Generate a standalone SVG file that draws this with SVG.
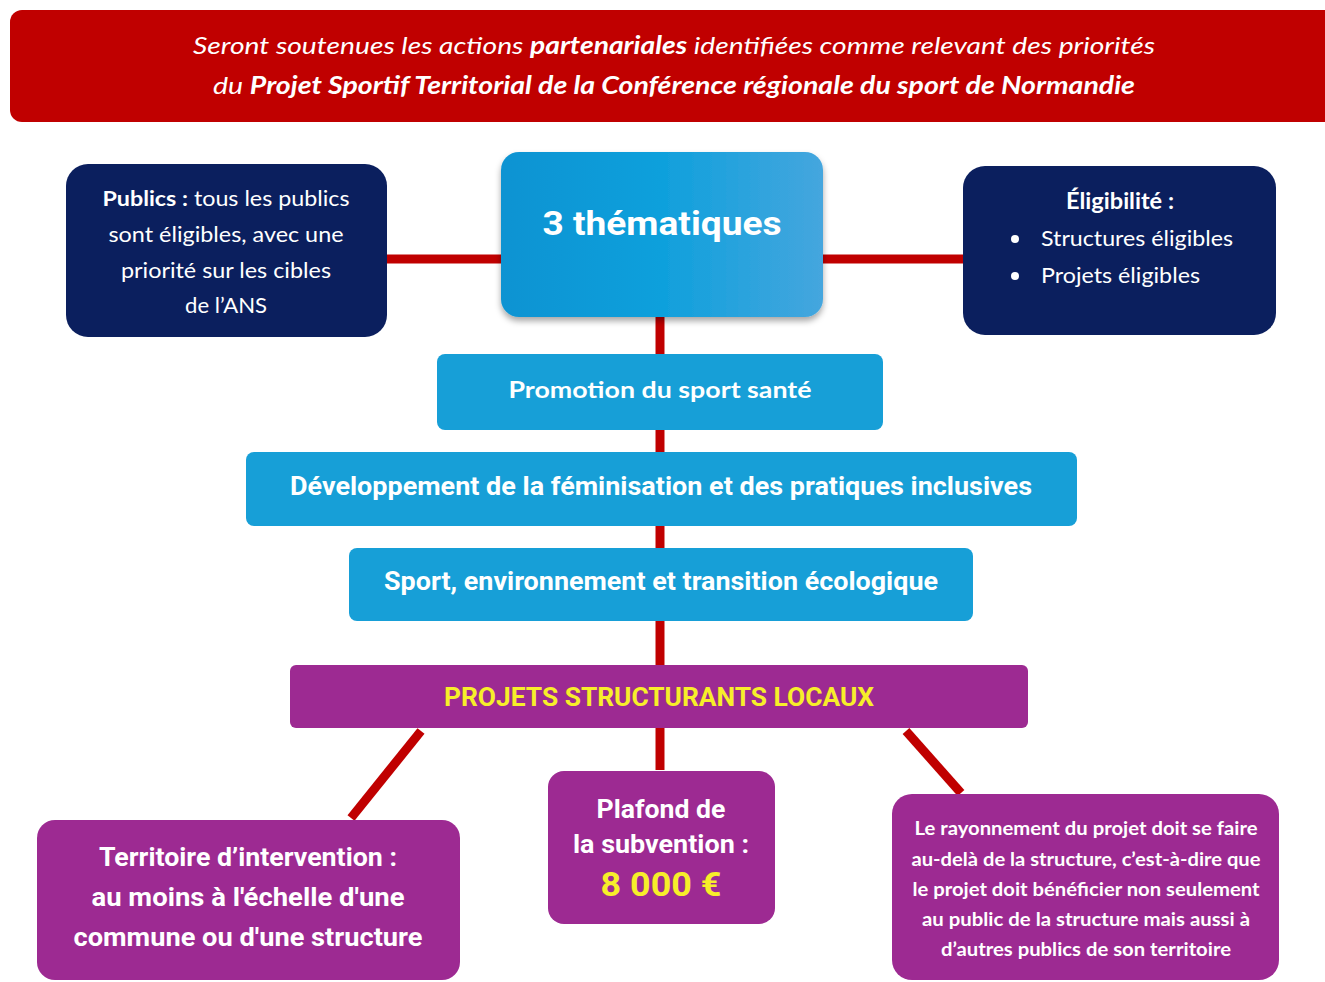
<svg xmlns="http://www.w3.org/2000/svg" width="1325" height="982" viewBox="0 0 1325 982">
<defs>
<linearGradient id="gblue" x1="0" y1="0" x2="1" y2="0">
<stop offset="0" stop-color="#0A93D2"/>
<stop offset="0.5" stop-color="#0FA0DC"/>
<stop offset="1" stop-color="#45A6DE"/>
</linearGradient>
<filter id="sh" x="-10%" y="-10%" width="120%" height="130%">
<feDropShadow dx="0" dy="4" stdDeviation="3" flood-color="#000" flood-opacity="0.35"/>
</filter>
</defs>
<style>
.navy{fill:#0B1F5E}
.blue{fill:#179FD7}
.purple{fill:#9D2A92}
.conn{stroke:#C00000;stroke-width:9;fill:none}
.w{fill:#FFFFFF}
.lato{font-family:Lato,"Open Sans",sans-serif}
.rob{font-family:Roboto,"Liberation Sans",sans-serif;font-weight:700}
.yel{fill:#F7EE2A}
</style>
<rect width="1325" height="982" fill="#FFFFFF"/>
<g id="header">
<rect x="10" y="10" width="1330" height="112" rx="12" fill="#C00000"/>
<text class="lato w" x="674" y="54" font-size="24" font-style="italic" text-anchor="middle" textLength="962" lengthAdjust="spacingAndGlyphs">Seront soutenues les actions <tspan font-weight="700">partenariales</tspan> identifiées comme relevant des priorités</text>
<text class="lato w" x="674" y="94" font-size="24" font-style="italic" text-anchor="middle" textLength="922" lengthAdjust="spacingAndGlyphs">du <tspan font-weight="700">Projet Sportif Territorial de la Conférence régionale du sport de Normandie</tspan></text>
</g>
<g id="connectors">
<line class="conn" x1="387" y1="259" x2="505" y2="259"/>
<line class="conn" x1="820" y1="259" x2="963" y2="259"/>
<line class="conn" x1="660" y1="316" x2="660" y2="355"/>
<line class="conn" x1="660" y1="430" x2="660" y2="452"/>
<line class="conn" x1="660" y1="526" x2="660" y2="548"/>
<line class="conn" x1="660" y1="621" x2="660" y2="665"/>
<line class="conn" x1="660" y1="728" x2="660" y2="770"/>
<line class="conn" x1="421" y1="731" x2="351" y2="818"/>
<line class="conn" x1="906" y1="731" x2="961" y2="793"/>
</g>
<g id="publics">
<rect class="navy" x="66" y="164" width="321" height="173" rx="22"/>
<g class="lato w" font-size="21" text-anchor="middle">
<text x="226" y="206" textLength="247" lengthAdjust="spacingAndGlyphs"><tspan font-weight="700">Publics :</tspan> tous les publics</text>
<text x="226" y="242" textLength="235" lengthAdjust="spacingAndGlyphs">sont éligibles, avec une</text>
<text x="226" y="278" textLength="210" lengthAdjust="spacingAndGlyphs">priorité sur les cibles</text>
<text x="226" y="313" textLength="82" lengthAdjust="spacingAndGlyphs">de l’ANS</text>
</g>
</g>
<g id="thematiques">
<rect x="501" y="152" width="322" height="165" rx="18" fill="url(#gblue)" filter="url(#sh)"/>
<text class="rob w" x="662" y="235" font-size="33" text-anchor="middle" textLength="239" lengthAdjust="spacingAndGlyphs">3 thématiques</text>
</g>
<g id="eligibilite">
<rect class="navy" x="963" y="166" width="313" height="169" rx="22"/>
<g class="lato w" font-size="21">
<text x="1120" y="209" font-size="22" font-weight="700" text-anchor="middle" textLength="108" lengthAdjust="spacingAndGlyphs">Éligibilité :</text>
<circle class="w" cx="1015" cy="239" r="4"/>
<text x="1041" y="246" textLength="192" lengthAdjust="spacingAndGlyphs">Structures éligibles</text>
<circle class="w" cx="1015" cy="276" r="4"/>
<text x="1041" y="283" textLength="159" lengthAdjust="spacingAndGlyphs">Projets éligibles</text>
</g>
</g>
<g id="promotion">
<rect class="blue" x="437" y="354" width="446" height="76" rx="8"/>
<text class="lato w" x="660" y="398" font-size="23" font-weight="700" text-anchor="middle" textLength="303" lengthAdjust="spacingAndGlyphs">Promotion du sport santé</text>
</g>
<g id="feminisation">
<rect class="blue" x="246" y="452" width="831" height="74" rx="8"/>
<text class="rob w" x="661" y="495" font-size="25" text-anchor="middle" textLength="742" lengthAdjust="spacingAndGlyphs">Développement de la féminisation et des pratiques inclusives</text>
</g>
<g id="environnement">
<rect class="blue" x="349" y="548" width="624" height="73" rx="8"/>
<text class="rob w" x="661" y="590" font-size="25" text-anchor="middle" textLength="554" lengthAdjust="spacingAndGlyphs">Sport, environnement et transition écologique</text>
</g>
<g id="projets">
<rect class="purple" x="290" y="665" width="738" height="63" rx="6"/>
<text class="rob yel" x="659" y="706" font-size="25" text-anchor="middle" textLength="430" lengthAdjust="spacingAndGlyphs">PROJETS STRUCTURANTS LOCAUX</text>
</g>
<g id="territoire">
<rect class="purple" x="37" y="820" width="423" height="160" rx="18"/>
<g class="rob w" font-size="25" text-anchor="middle">
<text x="248" y="866" textLength="298" lengthAdjust="spacingAndGlyphs">Territoire d’intervention :</text>
<text x="248" y="906" textLength="313" lengthAdjust="spacingAndGlyphs">au moins à l'échelle d'une</text>
<text x="248" y="946" textLength="349" lengthAdjust="spacingAndGlyphs">commune ou d'une structure</text>
</g>
</g>
<g id="plafond">
<rect class="purple" x="548" y="771" width="227" height="153" rx="16"/>
<g class="rob" font-size="25" text-anchor="middle">
<text class="w" x="661" y="818" textLength="129" lengthAdjust="spacingAndGlyphs">Plafond de</text>
<text class="w" x="661" y="853" textLength="176" lengthAdjust="spacingAndGlyphs">la subvention :</text>
<text class="yel" x="661" y="896" font-size="33" textLength="121" lengthAdjust="spacingAndGlyphs">8 000 €</text>
</g>
</g>
<g id="rayonnement">
<rect class="purple" x="892" y="794" width="387" height="186" rx="20"/>
<g class="lato w" font-size="18" font-weight="700" text-anchor="middle">
<text x="1086" y="835" textLength="343" lengthAdjust="spacingAndGlyphs">Le rayonnement du projet doit se faire</text>
<text x="1086" y="866" textLength="349" lengthAdjust="spacingAndGlyphs">au-delà de la structure, c’est-à-dire que</text>
<text x="1086" y="896" textLength="347" lengthAdjust="spacingAndGlyphs">le projet doit bénéficier non seulement</text>
<text x="1086" y="926" textLength="328" lengthAdjust="spacingAndGlyphs">au public de la structure mais aussi à</text>
<text x="1086" y="956" textLength="290" lengthAdjust="spacingAndGlyphs">d’autres publics de son territoire</text>
</g>
</g>
</svg>
